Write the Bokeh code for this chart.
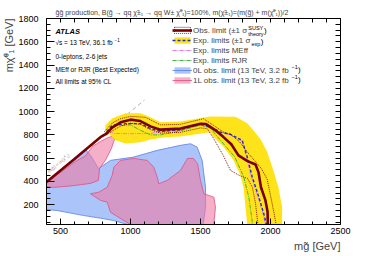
import math
from bokeh.plotting import figure
from bokeh.models import (LinearAxis, FixedTicker, Label, Legend, LegendItem, Range1d, Title)
from bokeh.embed import file_html
from bokeh.resources import INLINE

# ---------------- data (GeV) ----------------
x_major = [500, 1000, 1500, 2000, 2500]
x_minor = list(range(400, 2501, 100))
y_major = [200, 400, 600, 800, 1000, 1200, 1400, 1600, 1800]
y_minor = list(range(50, 1801, 50))

diag_x = [400, 1100]
diag_y = [400, 1100]

obs_x = [400, 600, 785, 826, 871, 929, 1000, 1071, 1143, 1214, 1357, 1500, 1540, 1607,
         1664, 1720, 1771, 1836, 1893, 1914, 1932, 1964, 1979, 1981]
obs_y = [395, 592, 780, 808, 865, 908, 931, 919, 873, 845, 854, 895, 893, 839,
         781, 720, 624, 575, 545, 480, 350, 237, 140, 30]

obs_up_x = [815, 871, 929, 1000, 1107, 1214, 1357, 1521, 1593, 1664, 1714, 1780, 1836,
            1935, 1976, 2000, 2025, 2040]
obs_up_y = [830, 903, 939, 959, 951, 886, 891, 939, 882, 824, 805, 740, 650,
            510, 420, 280, 130, 30]

obs_dn_x = [830, 871, 929, 1000, 1071, 1143, 1214, 1357, 1500, 1548, 1593, 1664, 1714,
            1780, 1836, 1871, 1893, 1910]
obs_dn_y = [800, 835, 875, 900, 890, 845, 815, 822, 860, 854, 770, 620, 495,
            450, 426, 348, 211, 30]

exp_x = [830, 869, 964, 1071, 1143, 1214, 1357, 1500, 1571, 1643, 1714, 1798, 1834,
         1868, 1917, 1955, 1970]
exp_y = [828, 882, 897, 897, 854, 830, 845, 897, 867, 824, 805, 753, 609,
         445, 265, 110, 30]

meff_x = [850, 880, 1000, 1143, 1214, 1357, 1500, 1571, 1643, 1714, 1798, 1830, 1862,
          1912, 1950, 1963]
meff_y = [830, 813, 810, 813, 825, 840, 885, 860, 818, 800, 745, 605, 440,
          262, 108, 30]

rjr_x = [840, 900, 1000, 1071, 1143, 1214, 1357, 1500, 1571, 1610, 1745, 1809, 1845,
         1869, 1870]
rjr_y = [835, 880, 885, 840, 800, 800, 835, 885, 860, 800, 610, 437, 265, 64, 30]

band_up_x = [820, 871, 964, 1071, 1143, 1214, 1357, 1571, 1750, 1834, 1885, 1930, 1975,
             2021, 2057, 2083, 2083]
band_up_y = [880, 942, 985, 985, 951, 908, 916, 959, 955, 900, 830, 760, 660,
             495, 348, 179, 30]
band_dn_x = [820, 843, 893, 964, 1071, 1143, 1250, 1357, 1571, 1593, 1666, 1736, 1786,
             1807, 1821, 1834]
band_dn_y = [840, 813, 753, 727, 736, 761, 779, 787, 822, 781, 695, 581, 452,
             351, 179, 30]

zl_x = [400, 500, 607, 679, 714, 750, 771, 857, 1021, 1191, 1357, 1429, 1476, 1512,
        1536, 1536, 1519, 979, 879, 786, 666, 476, 400]
zl_y = [400, 499, 607, 675, 624, 555, 509, 581, 609, 667, 710, 724, 695, 581,
        351, 179, 30, 30, 64, 84, 107, 150, 159]

ol1_x = [400, 500, 607, 679, 729, 786, 843, 871, 886, 864, 821, 779, 771, 714, 571, 443, 400]
ol1_y = [383, 478, 572, 620, 701, 744, 779, 787, 762, 684, 581, 512, 409, 383, 361, 348, 357]

ol2_x = [714, 774, 834, 869, 881, 929, 1024, 1119, 1166, 1191, 1202, 1262, 1357, 1407,
         1450, 1479, 1500, 1524, 1595, 1607, 1595, 1000, 952, 857, 834, 786]
ol2_y = [294, 308, 351, 452, 523, 581, 598, 581, 523, 437, 380, 409, 495, 598,
         598, 552, 409, 294, 265, 179, 30, 30, 64, 136, 222, 237]

leg_labels = ["Obs. limit (\u00b11 \u03c3", "Exp. limits (\u00b11 \u03c3", "Exp. limits MEff",
              "Exp. limits RJR", "0L obs. limit (13 TeV, 3.2 fb", "1L obs. limit (13 TeV, 3.2 fb"]

# ---------------- styles ----------------
FONT = "Liberation Sans"
C_OBS = "#7a0000"
C_EXP = "#1a2fd0"
C_BAND = "#ffe31a"
C_MEFF = "#e07ce8"
C_RJR = "#3cb83c"
C_0L_F = "#abc5fa"
C_0L_L = "#5b80e6"
C_1L_F = "#f07aa5"
C_1L_L = "#e0507f"

p = figure(width=378, height=256, x_range=Range1d(400, 2500), y_range=Range1d(30, 1800),
           output_backend="svg", toolbar_location=None,
           min_border_left=46, min_border_right=38, min_border_top=18, min_border_bottom=32)
p.outline_line_color = None
p.grid.visible = False
p.background_fill_color = "white"

# title
p.title.text = ("g\u0303g\u0303 production, B(g\u0303 \u2192 qq \u03c7\u0303\u00b1\u2081 \u2192 qq W\u00b1 "
                "\u03c7\u0303\u2070\u2081)=100%, m(\u03c7\u0303\u00b1\u2081)=(m(g\u0303) + m(\u03c7\u0303\u2070\u2081))/2")
p.title.text_font = FONT
p.title.text_font_size = "7px"
p.title.text_font_style = "normal"
p.title.align = "left"
p.title.offset = 9
p.title.standoff = 5

# regions
r0l = p.patch(zl_x, zl_y, fill_color=C_0L_F, line_color=None)
r0l_line = p.line(zl_x + zl_x[:1], zl_y + zl_y[:1], line_color=C_0L_L, line_width=0.8)
r1a = p.patch(ol1_x, ol1_y, fill_color=C_1L_F, fill_alpha=0.6, line_color=None)
r1b = p.patch(ol2_x, ol2_y, fill_color=C_1L_F, fill_alpha=0.6, line_color=None)
r1a_line = p.line(ol1_x + ol1_x[:1], ol1_y + ol1_y[:1], line_color=C_1L_L, line_width=0.8)
p.line(ol2_x + ol2_x[:1], ol2_y + ol2_y[:1], line_color=C_1L_L, line_width=0.8)

p.line(diag_x, diag_y, line_color="#9a9a9a", line_width=0.8, line_dash="4 3")

rband = p.patch(band_up_x + band_dn_x[::-1], band_up_y + band_dn_y[::-1],
                fill_color=C_BAND, line_color=None)

rmeff = p.line(meff_x, meff_y, line_color=C_MEFF, line_width=1.0, line_dash="4 1 1 1")
rrjr = p.line(rjr_x, rjr_y, line_color=C_RJR, line_width=1.0, line_dash="4 1 1 1")
rexp = p.line(exp_x, exp_y, line_color=C_EXP, line_width=1.4, line_dash="3 2")
rsig = p.patch(obs_up_x + obs_dn_x[::-1], obs_up_y + obs_dn_y[::-1], fill_alpha=0,
               line_color=C_OBS, line_width=0.9, line_dash="1 1")
robs = p.line(obs_x, obs_y, line_color=C_OBS, line_width=2.6)

legend = Legend(items=[
    LegendItem(label=leg_labels[0], renderers=[rsig, robs]),
    LegendItem(label=leg_labels[1], renderers=[rband, rexp]),
    LegendItem(label=leg_labels[2], renderers=[rmeff]),
    LegendItem(label=leg_labels[3], renderers=[rrjr]),
    LegendItem(label=leg_labels[4], renderers=[r0l, r0l_line]),
    LegendItem(label=leg_labels[5], renderers=[r1a, r1a_line]),
], location=(126, 139), glyph_width=20, glyph_height=8, label_height=10, spacing=0,
    padding=0, margin=0, label_standoff=1, label_text_font=FONT, label_text_font_size="8px",
    border_line_alpha=0, background_fill_alpha=0)
p.add_layout(legend)

# axes
def style_axis(ax, ticker, tin, tmin):
    ax.ticker = ticker
    ax.major_tick_in = tin
    ax.major_tick_out = 0
    ax.minor_tick_in = tmin
    ax.minor_tick_out = 0
    ax.axis_line_color = "black"
    ax.major_tick_line_color = "black"
    ax.minor_tick_line_color = "black"
    ax.axis_line_width = 1
    ax.major_label_text_font = FONT
    ax.major_label_text_font_size = "9px"
    ax.major_label_text_color = "black"

style_axis(p.xaxis[0], FixedTicker(ticks=x_major, minor_ticks=x_minor), 6, 3)
p.xaxis[0].major_label_standoff = 3
style_axis(p.yaxis[0], FixedTicker(ticks=y_major, minor_ticks=y_minor), 8, 4)
p.yaxis[0].major_label_standoff = 8

top = LinearAxis()
p.add_layout(top, "above")
style_axis(top, FixedTicker(ticks=[], minor_ticks=x_minor), 0, 4)
top.major_label_standoff = 0
right = LinearAxis()
p.add_layout(right, "right")
style_axis(right, FixedTicker(ticks=[], minor_ticks=y_minor), 0, 5)
right.major_label_standoff = 0

# axis titles (outside the frame)
p.add_layout(Title(text="mg\u0303 [GeV]", align="right", text_font=FONT, text_font_size="11px",
                   text_font_style="normal", standoff=2), "below")
p.add_layout(Title(text="m\u03c7\u0303\u2070\u2081 [GeV]", align="right", text_font=FONT,
                   text_font_size="11px", text_font_style="normal", standoff=1), "left")

# ---------------- texts inside the frame (page px -> frame screen) ----------------
def lab(text, px, py, size, align="left", baseline="middle", angle=0.0, color="black",
        style="normal"):
    p.add_layout(Label(x=px - 46, y=224 - py, x_units="screen", y_units="screen", text=text,
                       text_font=FONT, text_font_size=f"{size}px", text_align=align,
                       text_baseline=baseline, angle=angle, text_color=color,
                       text_font_style=style))

lab("ATLAS", 55, 31, 7.5, style="bold italic")
lab("\u221as = 13 TeV, 36.1 fb", 55, 41.7, 6.5)
lab("\u22121", 114, 39.5, 4.5)
lab("0-leptons, 2-6 jets", 55, 55.7, 6.5)
lab("MEff or RJR (Best Expected)", 55, 69.3, 6.5)
lab("All limits at 95% CL", 55, 81, 6.5)

# legend sub/superscripts
lab("SUSY", 247.8, 27.3, 5.5)
lab("theory", 247.8, 33.2, 5.5)
lab(")", 263.5, 30, 8)
lab("exp", 251, 43, 5.5)
lab(")", 260.3, 40.5, 8)
lab("\u22121", 291, 66.8, 5.5)
lab(")", 297.5, 69.3, 8)
lab("\u22121", 291, 76.8, 5.5)
lab(")", 297.5, 79.3, 8)

lab("m(g\u0303) < m(\u03c7\u0303\u2070\u2081)", 58, 163, 4.5, align="center",
    angle=math.radians(39.7), color="#9a9a9a")

open("out.html", "w").write(file_html(p, INLINE))
